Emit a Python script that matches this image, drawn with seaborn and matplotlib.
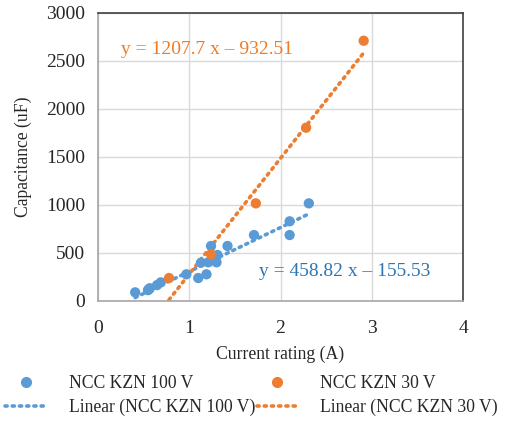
import numpy as np
import pandas as pd
import matplotlib
matplotlib.use("Agg")
import matplotlib.pyplot as plt
import seaborn as sns
from matplotlib.lines import Line2D

# Data
blue_x = [0.41, 0.55, 0.57, 0.56, 0.65, 0.69, 0.97, 1.10, 1.19, 1.13, 1.21, 1.30, 1.31, 1.24, 1.42, 1.71, 2.10, 2.10, 2.31]
blue_y = [87, 110, 130, 118, 163, 191, 275, 236, 275, 396, 400, 400, 476, 570, 570, 684, 827, 684, 1014]
orange_x = [0.78, 1.24, 1.73, 2.28, 2.91]
orange_y = [236, 483, 1014, 1802, 2708]

blue_fit = (458.82, -155.53)
orange_fit = (1207.7, -932.51)

series_names = ["NCC KZN 100 V", "NCC KZN 30 V"]
trend_names = ["Linear (NCC KZN 100 V)", "Linear (NCC KZN 30 V)"]
eq_labels = ["y = 458.82 x \u2013 155.53", "y = 1207.7 x \u2013 932.51"]

x_ticks = [0, 1, 2, 3, 4]
y_ticks = [0, 500, 1000, 1500, 2000, 2500, 3000]

BLUE = "#5B9BD5"
ORANGE = "#ED7D31"
BLUE_TXT = "#2E75B6"
ORANGE_TXT = "#F07A22"

sns.set_theme(style="white")
plt.rcParams['font.family'] = ['Liberation Serif', 'DejaVu Serif']

df = pd.DataFrame({
    "x": blue_x + orange_x,
    "y": blue_y + orange_y,
    "series": [series_names[0]] * len(blue_x) + [series_names[1]] * len(orange_x),
})

fig = plt.figure(figsize=(5.09, 4.22), dpi=100)
ax = fig.add_axes([97.7 / 509, 1 - 300.7 / 422, (463.3 - 97.7) / 509, (300.7 - 12.7) / 422])

sns.scatterplot(data=df, x="x", y="y", hue="series", palette=[BLUE, ORANGE],
                s=55, edgecolor="none", ax=ax, legend=False, zorder=3)

DOT = (0, (0.6, 1.4))
for xs, fit, col, nm in [(blue_x, blue_fit, BLUE, trend_names[0]), (orange_x, orange_fit, ORANGE, trend_names[1])]:
    xx = np.linspace(min(xs), max(xs), 50)
    yy = fit[0] * xx + fit[1]
    ax.plot(xx, yy, color=col, lw=2.6, linestyle=DOT, dash_capstyle="round", zorder=2, label=nm)

ax.set_xlim(0, 4)
ax.set_ylim(0, 3000)
ax.set_xticks(x_ticks)
ax.set_yticks(y_ticks)
ax.tick_params(axis="both", labelsize=14, length=0)
ax.tick_params(axis="x", pad=14)
ax.tick_params(axis="y", pad=9)
ax.grid(True, color="#d9d9d9", lw=1)
ax.set_axisbelow(True)
for s in ["top", "right"]:
    ax.spines[s].set_color("#404040")
    ax.spines[s].set_linewidth(1.2)
for s in ["left", "bottom"]:
    ax.spines[s].set_color("#a6a6a6")
    ax.spines[s].set_linewidth(1.2)

ax.set_xlabel("Current rating (A)", fontsize=12.7, labelpad=6)
ax.set_ylabel("Capacitance (uF)", fontsize=12.7, labelpad=10)

ax.text(0.25, 2620, eq_labels[1], color=ORANGE_TXT, fontsize=14, va="center", ha="left")
ax.text(1.76, 300, eq_labels[0], color=BLUE_TXT, fontsize=14, va="center", ha="left")

h = [
    Line2D([], [], marker="o", color=BLUE, lw=0, markersize=7),
    Line2D([], [], color=BLUE, lw=2.6, linestyle=DOT, dash_capstyle="round"),
    Line2D([], [], marker="o", color=ORANGE, lw=0, markersize=7),
    Line2D([], [], color=ORANGE, lw=2.6, linestyle=DOT, dash_capstyle="round"),
]
labels = [series_names[0], trend_names[0], series_names[1], trend_names[1]]
fig.legend(h, labels, loc="upper left", bbox_to_anchor=(0.0, 1 - 370 / 422), ncol=2,
           frameon=False, fontsize=12.7, handlelength=2.3, columnspacing=0.1,
           handletextpad=1.3, labelspacing=0.35, borderaxespad=0, borderpad=0.3)

fig.savefig("out.png", dpi=100)
